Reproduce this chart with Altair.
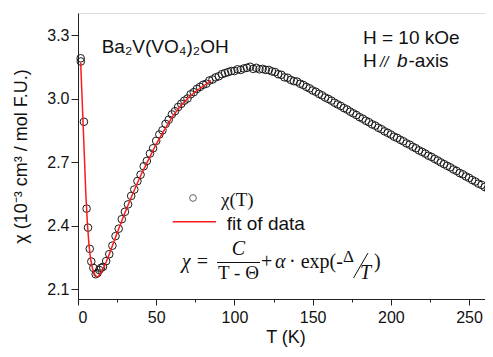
import altair as alt
import pandas as pd

# ---------------- data ----------------
T_low = [1.7, 1.8, 3.8, 5.5, 6.4, 7.5, 8.5, 9.8, 11.3, 12.4, 13.6, 14.7]
chi_low = [3.19, 3.175, 2.89, 2.48, 2.39, 2.29, 2.23, 2.20, 2.17, 2.175, 2.19, 2.20]

T_main = list(range(16, 266, 2))
chi_main = [
    2.205, 2.232, 2.265, 2.305, 2.350, 2.385, 2.430, 2.465, 2.500, 2.540,
    2.570, 2.610, 2.640, 2.680, 2.705, 2.740, 2.765, 2.800, 2.830, 2.850,
    2.880, 2.900, 2.925, 2.940, 2.960, 2.975, 2.990, 3.000, 3.020, 3.030,
    3.045, 3.055, 3.065, 3.070, 3.085, 3.090, 3.100, 3.105, 3.115, 3.120,
    3.125, 3.130, 3.130, 3.138, 3.135, 3.142, 3.145, 3.150, 3.140, 3.145,
    3.138, 3.140, 3.135, 3.135, 3.128, 3.125, 3.115, 3.112, 3.100, 3.098,
    3.088, 3.082, 3.080, 3.070, 3.064, 3.055, 3.048, 3.038, 3.032, 3.022,
    3.015, 3.005, 2.998, 2.990, 2.980, 2.972, 2.965, 2.955, 2.948, 2.938,
    2.930, 2.922, 2.912, 2.905, 2.895, 2.888, 2.878, 2.872, 2.862, 2.855,
    2.845, 2.838, 2.830, 2.820, 2.814, 2.805, 2.798, 2.788, 2.782, 2.772,
    2.765, 2.755, 2.748, 2.740, 2.730, 2.724, 2.715, 2.707, 2.698, 2.690,
    2.682, 2.675, 2.665, 2.658, 2.648, 2.642, 2.632, 2.625, 2.615, 2.608,
    2.598, 2.592, 2.582, 2.575, 2.566,
]

T_fit = [1.7, 3, 4, 5, 6, 7, 8, 9, 10, 11, 12, 13, 14, 16, 18, 20, 25, 30,
         35, 40, 45, 50, 55, 60, 65, 70, 75, 80, 85]
chi_fit = [3.17, 2.93, 2.74, 2.55, 2.41, 2.31, 2.245, 2.205, 2.18, 2.165,
           2.158, 2.16, 2.17, 2.195, 2.228, 2.265, 2.365, 2.46, 2.55, 2.635,
           2.71, 2.785, 2.85, 2.91, 2.96, 3.0, 3.032, 3.058, 3.085]

x_major = [0, 50, 100, 150, 200, 250]
x_minor = [25, 75, 125, 175, 225]
y_ticks = [2.1, 2.25, 2.4, 2.55, 2.7, 2.85, 3.0, 3.15, 3.3]

meas = pd.DataFrame({"T": T_low + T_main, "chi": chi_low + chi_main})
fit = pd.DataFrame({"T": T_fit, "chi": chi_fit})

W, H = 415, 286
OX, OY = 78, 13  # page position of plot origin
SANS = "Liberation Sans"
SERIF = "Liberation Serif"

xscale = alt.Scale(domain=[0, 265.3], nice=False, zero=False)
yscale = alt.Scale(domain=[2.053, 3.404], nice=False, zero=False)

xaxis = alt.Axis(
    title="T (K)", values=x_major + x_minor,
    labelExpr="datum.value % 50 == 0 ? datum.label : ''",
    tickSize={"expr": "datum.value % 50 == 0 ? 6 : 3"},
    labelFont=SANS, labelFontSize=16, labelColor="#111", labelPadding=4,
    titleFont=SANS, titleFontSize=18, titleFontWeight="normal", titleColor="#111",
    titlePadding=3, grid=False, domainColor="#222", tickColor="#222",
)
yaxis = alt.Axis(
    title="χ (10⁻³ cm³ / mol F.U.)", values=y_ticks, format=".1f",
    labelExpr="round(datum.value*100) % 30 == 0 ? datum.label : ''",
    tickSize={"expr": "round(datum.value*100) % 30 == 0 ? 7 : 3"},
    labelFont=SANS, labelFontSize=16, labelColor="#111", labelPadding=2,
    titleFont=SANS, titleFontSize=18, titleFontWeight="normal", titleColor="#111",
    titlePadding=16, grid=False, domainColor="#222", tickColor="#222",
)

base = alt.Chart(meas)
points = base.mark_point(shape="circle", filled=False, size=58, stroke="#1a1a1a",
                         strokeWidth=1, opacity=1).encode(
    x=alt.X("T:Q", scale=xscale, axis=xaxis),
    y=alt.Y("chi:Q", scale=yscale, axis=yaxis),
)
fitline = alt.Chart(fit).mark_line(color="#ff1a1a", strokeWidth=1.5).encode(
    x=alt.X("T:Q", scale=xscale), y=alt.Y("chi:Q", scale=yscale)
)


def txt(s, px, py, size=19, font=SANS, style="normal", align="left"):
    return alt.Chart(pd.DataFrame({"t": [s]})).mark_text(
        text=s, font=font, fontSize=size, fontStyle=style, align=align,
        baseline="alphabetic", color="#111",
    ).encode(x=alt.value(px - OX), y=alt.value(py - OY))


def seg(x1, y1, x2, y2, color="#111", width=1.0):
    return alt.Chart(pd.DataFrame({"a": [0]})).mark_rule(
        color=color, strokeWidth=width
    ).encode(x=alt.value(x1 - OX), x2=alt.value(x2 - OX),
             y=alt.value(y1 - OY), y2=alt.value(y2 - OY))


legend_pt = alt.Chart(pd.DataFrame({"a": [0]})).mark_point(
    shape="circle", filled=False, size=45, stroke="#222", strokeWidth=1
).encode(x=alt.value(193 - OX), y=alt.value(198 - OY))

annos = [
    txt("Ba₂V(VO₄)₂OH", 101.7, 53),
    txt("H = 10 kOe", 363, 43.5),
    txt("H", 363, 67),
    txt("//", 380, 67, size=15, style="italic"),
    txt("b", 397, 67, style="italic"),
    txt("-axis", 408.5, 67),
    legend_pt,
    txt("χ(T)", 221, 206, size=19, font=SERIF),
    seg(172.7, 221.7, 216, 221.7, color="#ff1a1a", width=1.5),
    txt("fit of data", 226.7, 229.5),
    txt("χ =", 181.7, 268, size=20, font=SERIF, style="italic"),
    txt("C", 238.5, 255, size=20, font=SERIF, style="italic", align="center"),
    seg(217, 262.5, 260, 262.5, width=1.0),
    txt("T - Θ", 238.5, 279, size=19, font=SERIF, align="center"),
    txt("+", 261, 268, size=20, font=SERIF),
    txt("α", 275, 268, size=20, font=SERIF, style="italic"),
    txt("· exp(-", 289, 268, size=20, font=SERIF),
    txt("Δ", 343, 262, size=17, font=SERIF),
    seg(353.5, 278, 368, 253, width=1.0),
    txt("T", 360, 279, size=20, font=SERIF, style="italic"),
    txt(")", 374, 268, size=20, font=SERIF),
]

chart = alt.layer(points, fitline, *annos).properties(
    width=W, height=H,
    autosize=alt.AutoSizeParams(type="none"),
    padding={"left": 70, "top": 5, "right": -8, "bottom": 50},
).configure_view(stroke="#222", strokeWidth=1).configure(background="white")

chart.save("out.html", embed_options={"renderer": "svg", "actions": False})
